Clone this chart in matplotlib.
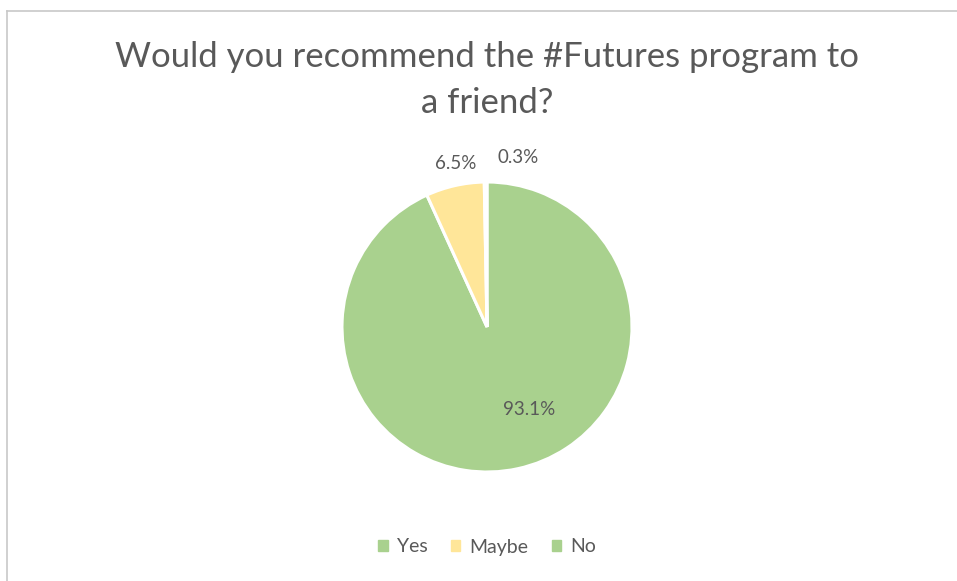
import numpy as np
import matplotlib
matplotlib.use("Agg")
import matplotlib.pyplot as plt
from matplotlib.lines import Line2D

# survey answers
categories = ["Yes", "Maybe", "No"]
shares = [93.1, 6.5, 0.3]
colors = ["#A9D18E", "#FFE699", "#A9D18E"]
title = "Would you recommend the #Futures program to\na friend?"

# where each percentage sits: nudge off the wedge middle (deg) and radius
label_nudge = [15, -2, -11]
label_radius = [0.64, 1.15, 1.19]

plt.rcParams["font.family"] = ["Lato", "DejaVu Sans"]
TXT = "#595959"

W, H = 957, 581
fig = plt.figure(figsize=(W / 100, H / 100), dpi=100)

# chart frame (only left and top edges are inside the crop)
fig.add_artist(Line2D([6.5 / W, 6.5 / W], [0, 1 - 10.5 / H], transform=fig.transFigure,
                      color="#C8C8C8", lw=1.2))
fig.add_artist(Line2D([6.5 / W, 1], [1 - 10.5 / H, 1 - 10.5 / H], transform=fig.transFigure,
                      color="#C8C8C8", lw=1.2))

cx, cy, r = 487, H - 327, 145
ax = fig.add_axes([(cx - r) / W, (cy - r) / H, 2 * r / W, 2 * r / H])
wedges, _ = ax.pie(shares, colors=colors, startangle=90, counterclock=False, radius=1,
                   wedgeprops=dict(edgecolor="white", linewidth=2.2))
ax.set_xlim(-1, 1)
ax.set_ylim(-1, 1)
ax.set_aspect("equal")
ax.axis("off")

for w, v, nd, rr in zip(wedges, shares, label_nudge, label_radius):
    ang = np.deg2rad((w.theta1 + w.theta2) / 2 + nd)
    ax.text(rr * np.cos(ang), rr * np.sin(ang), f"{v:.1f}%", ha="center", va="center",
            fontsize=13.5, color=TXT, clip_on=False)

fig.text(cx / W, 1 - 80 / H, title, ha="center", va="center", fontsize=25, color=TXT,
         linespacing=1.55)

handles = [plt.Rectangle((0, 0), 1, 1, color=c) for c in colors]
fig.legend(handles, categories, loc="center", bbox_to_anchor=(cx / W, 1 - 547 / H), ncol=3,
           frameon=False, fontsize=14, handlelength=0.5, handleheight=0.5, handletextpad=0.45,
           columnspacing=1.2, labelcolor=TXT)

fig.savefig("out.png", dpi=100)
